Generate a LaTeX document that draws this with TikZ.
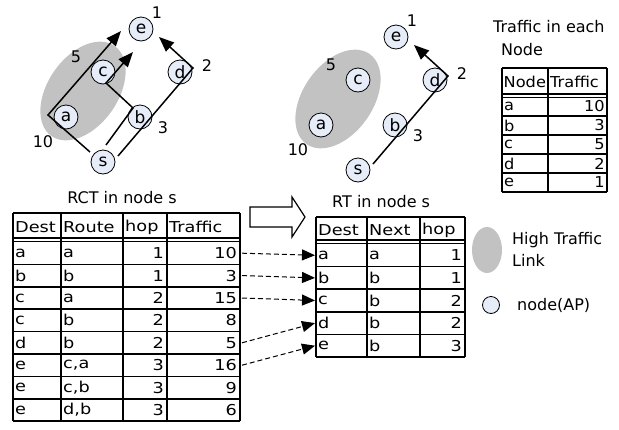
\documentclass[tikz,border=0pt]{standalone}
\usepackage{fontspec}
\setmainfont{DejaVu Sans}
\newfontfamily\tabfont[FakeStretch=1.18]{DejaVu Sans}
\newfontfamily\smalltabfont[FakeStretch=1.08]{DejaVu Sans}
\usetikzlibrary{arrows.meta}
\definecolor{linkgray}{HTML}{C2C2C2}
\definecolor{apfill}{HTML}{E6EDF8}
\newcommand\txtsize{\fontsize{16}{19}\selectfont}
\newcommand\apsize{\fontsize{17}{19}\selectfont}
\newcommand\tabsize{\tabfont\fontsize{15}{18}\selectfont}
\newcommand\smallsize{\smalltabfont\fontsize{15}{18}\selectfont}
\tikzset{
  ap/.style={circle, draw, line width=0.8pt, fill=apfill, minimum size=24pt, inner sep=0pt, font=\apsize},
  hotlink/.style={fill=linkgray},
  route/.style={line width=1.5pt, -{Triangle[length=15pt,width=12pt]}},
  lbl/.style={font=\txtsize, inner sep=0pt},
  title/.style={font=\txtsize, inner sep=0pt},
  cellL/.style={font=\tabsize, inner sep=0pt, anchor=west},
  cellR/.style={font=\tabsize, inner sep=0pt, anchor=east},
  scellL/.style={font=\smallsize, inner sep=0pt, anchor=west},
  scellR/.style={font=\smallsize, inner sep=0pt, anchor=east},
  grid/.style={line width=1.7pt},
  gridthin/.style={line width=1.1pt},
  copyarrow/.style={line width=1pt, dash pattern=on 5pt off 3pt, -{Triangle[length=13pt,width=11pt]}},
  bigarrow/.style={line width=1.2pt, fill=white, line join=miter},
}
\begin{document}
\begin{tikzpicture}[x=1pt,y=-1pt]
\useasboundingbox (0,0) rectangle (619,429);

% ---------- network with all candidate routes ----------
\begin{scope}[name prefix=L-]
  \fill[hotlink] (83,91) ellipse[x radius=55, y radius=35, rotate=55];
  \node[ap] (e) at (141,29) {e};
  \node[ap] (c) at (103,72) {c};
  \node[ap] (d) at (180,72) {d};
  \node[ap] (a) at (66,117) {a};
  \node[ap] (b) at (140,117) {b};
  \node[ap] (s) at (103,162) {s};
  \node[lbl] (t1) at (157,13) {1};
  \node[lbl] (t5) at (76,57) {5};
  \node[lbl] (t2) at (207,66) {2};
  \node[lbl] (t3) at (163,128) {3};
  \node[lbl] (t10) at (43,142) {10};
  % route s-a-c-e
  \coordinate (r1s) at (90,152);
  \coordinate (r1a) at (48,115);
  \coordinate (r1e) at (121,31);
  \draw[route] (r1s) -- (r1a) -- (r1e);
  % route s-b-c-e
  \coordinate (r2s) at (106,145);
  \coordinate (r2b) at (133,108);
  \coordinate (r2c) at (106,83);
  \coordinate (r2e) at (133,52);
  \draw[route] (r2s) -- (r2b) -- (r2c) -- (r2e);
  % route s-b-d-e
  \coordinate (r3s) at (118,156);
  \coordinate (r3d) at (193,68);
  \coordinate (r3e) at (159,37);
  \draw[route] (r3s) -- (r3d) -- (r3e);
\end{scope}

% ---------- network with the selected route ----------
\begin{scope}[name prefix=R-, shift={(255,8)}]
  \fill[hotlink] (83,91) ellipse[x radius=55, y radius=35, rotate=55];
  \node[ap] (e) at (141,29) {e};
  \node[ap] (c) at (103,72) {c};
  \node[ap] (d) at (180,72) {d};
  \node[ap] (a) at (66,117) {a};
  \node[ap] (b) at (140,117) {b};
  \node[ap] (s) at (103,162) {s};
  \node[lbl] (t1) at (157,13) {1};
  \node[lbl] (t5) at (76,57) {5};
  \node[lbl] (t2) at (207,66) {2};
  \node[lbl] (t3) at (163,128) {3};
  \node[lbl] (t10) at (43,142) {10};
  \coordinate (r3s) at (118,156);
  \coordinate (r3d) at (193,68);
  \coordinate (r3e) at (159,37);
  \draw[route] (r3s) -- (r3d) -- (r3e);
\end{scope}

% ---------- traffic per node ----------
\node[title, anchor=west] (tt1) at (493,27) {Traffic in each};
\node[title, anchor=west] (tt2) at (501,50) {Node};
\foreach \yy in {68,192} \draw[grid] (502,\yy) -- (607,\yy);
\foreach \k in {1,...,4} \draw[grid] (502,{97+19*\k}) -- (607,{97+19*\k});
\draw[gridthin] (502,94) -- (607,94);
\draw[gridthin] (502,97.5) -- (607,97.5);
\foreach \xx in {502,548,607} \draw[grid] (\xx,68) -- (\xx,192);
\node[scellL] (tn-h1) at (503.5,82) {Node};
\node[scellL] (tn-h2) at (550,82) {Traffic};
\foreach \n/\v [count=\i] in {a/10,b/3,c/5,d/2,e/1} {
  \node[scellL] (tn-n-\i) at (504,{97+19*(\i-0.5)}) {\n};
  \node[scellR] (tn-v-\i) at (605,{97+19*(\i-0.5)}) {\v};
}

% ---------- RCT table ----------
\node[title] (rcttitle) at (122,198) {RCT in node s};
\draw[grid] (13,213) -- (240,213);
\draw[gridthin] (13,238) -- (240,238);
\draw[gridthin] (13,241.5) -- (240,241.5);
\foreach \k in {1,...,8} \draw[grid] (13,{242+22.4*\k}) -- (240,{242+22.4*\k});
\foreach \xx in {13,61,123,167,240} \draw[grid] (\xx,213) -- (\xx,421.2);
\node[cellL] (rct-h1) at (15,227) {Dest};
\node[cellL] (rct-h2) at (63,227) {Route};
\node[cellL] (rct-h3) at (125,227) {hop};
\node[cellL] (rct-h4) at (169,227) {Traffic};
\foreach \d/\r/\h/\t [count=\i] in {a/a/1/10, b/b/1/3, c/a/2/15, c/b/2/8, d/b/2/5, e/{c,a}/3/16, e/{c,b}/3/9, e/{d,b}/3/6} {
  \node[cellL] (rct-d-\i) at (15,{242+22.4*(\i-0.5)}) {\d};
  \node[cellL] (rct-r-\i) at (63,{242+22.4*(\i-0.5)}) {\r};
  \node[cellR] (rct-h-\i) at (164,{242+22.4*(\i-0.5)}) {\h};
  \node[cellR] (rct-t-\i) at (237,{242+22.4*(\i-0.5)}) {\t};
  \coordinate (rct-out-\i) at (242,{242+22.4*(\i-0.5)});
}

% ---------- RT table ----------
\node[title, anchor=west] (rttitle) at (332,202) {RT in node s};
\draw[grid] (316,217) -- (465,217);
\draw[gridthin] (316,240) -- (465,240);
\draw[gridthin] (316,243.5) -- (465,243.5);
\foreach \k in {1,...,5} \draw[grid] (316,{244+22.6*\k}) -- (465,{244+22.6*\k});
\foreach \xx in {316,367,420,465} \draw[grid] (\xx,217) -- (\xx,357.2);
\node[cellL] (rt-h1) at (318,230) {Dest};
\node[cellL] (rt-h2) at (369,230) {Next};
\node[cellL] (rt-h3) at (422,230) {hop};
\foreach \d/\n/\h [count=\i] in {a/a/1, b/b/1, c/b/2, d/b/2, e/b/3} {
  \node[cellL] (rt-d-\i) at (318,{244+22.6*(\i-0.5)}) {\d};
  \node[cellL] (rt-n-\i) at (369,{244+22.6*(\i-0.5)}) {\n};
  \node[cellR] (rt-h-\i) at (462,{244+22.6*(\i-0.5)}) {\h};
  \coordinate (rt-in-\i) at (315,{244+22.6*(\i-0.5)});
}

% RCT -> RT
\draw[bigarrow] (250,207) -- (292,207) -- (292,197) -- (305,217) -- (292,237) -- (292,227) -- (250,227) -- cycle;
\draw[copyarrow] (rct-out-1) -- (rt-in-1);
\draw[copyarrow] (rct-out-2) -- (rt-in-2);
\draw[copyarrow] (rct-out-3) -- (rt-in-3);
\draw[copyarrow] (rct-out-5) -- (rt-in-4);
\draw[copyarrow] (rct-out-6) -- (rt-in-5);

% ---------- legend ----------
\fill[hotlink] (487,250) ellipse[x radius=15, y radius=23];
\node[title, anchor=west] (lg1) at (512,240) {High Traffic};
\node[title, anchor=west] (lg2) at (512,260) {Link};
\node[ap, minimum size=17pt] (lgap) at (491,305) {};
\node[title, anchor=west] (lg3) at (517,305) {node(AP)};
\end{tikzpicture}
\end{document}
